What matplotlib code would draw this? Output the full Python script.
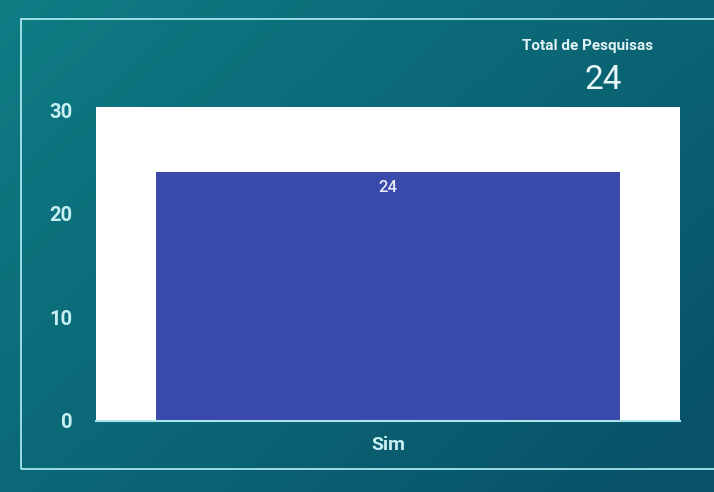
import numpy as np
import matplotlib
matplotlib.use("Agg")
import matplotlib.pyplot as plt
from matplotlib.patches import Rectangle

categories = ["Sim"]
values = [24]
total_label = "Total de Pesquisas"
total_value = 24
yticks = [0, 10, 20, 30]

plt.rcParams['font.family'] = ['Roboto', 'DejaVu Sans']

fig = plt.figure(figsize=(7.14, 4.92), dpi=100)

# background gradient (teal, darker towards the top right)
bg = fig.add_axes([0, 0, 1, 1], zorder=0)
bg.set_axis_off()
yy, xx = np.mgrid[0:1:200j, 0:1:300j]
t = np.clip(0.6 * xx + 0.45 * yy, 0, 1)
c0 = np.array([0x0f, 0x7c, 0x84]) / 255
c1 = np.array([0x08, 0x52, 0x68]) / 255
img = c0[None, None, :] * (1 - t[..., None]) + c1[None, None, :] * t[..., None]
bg.imshow(img, extent=[0, 1, 0, 1], aspect="auto", origin="upper")
bg.set_xlim(0, 1)
bg.set_ylim(0, 1)

# thin frame
bg.add_patch(Rectangle((21 / 714, 1 - 469 / 492), 1.0, (469 - 19) / 492,
                       fill=False, edgecolor="#a8e6ec", linewidth=1.3,
                       transform=bg.transAxes))

ax = fig.add_axes([96 / 714, 1 - 421 / 492, (680 - 96) / 714, (421 - 107) / 492], zorder=1)
ax.set_facecolor("white")
x = np.arange(len(categories))
bars = ax.bar(x, values, width=0.795, color="#3a4aab", zorder=2)
ax.set_xlim(-0.5, 0.5)
ax.set_ylim(0, 30.3)
ax.set_yticks(yticks)
ax.set_xticks(x)
ax.set_xticklabels(categories)
for s in ["top", "right", "left"]:
    ax.spines[s].set_visible(False)
ax.spines["bottom"].set_color("#a8e6ec")
ax.spines["bottom"].set_linewidth(1.5)
ax.tick_params(axis="both", length=0, colors="#c8f0f3")
ax.tick_params(axis="y", pad=17, labelsize=14.5)
ax.tick_params(axis="x", pad=11, labelsize=14)
for lab in ax.get_yticklabels() + ax.get_xticklabels():
    lab.set_fontweight("bold")
for b, v in zip(bars, values):
    ax.text(b.get_x() + b.get_width() / 2, v - 0.7, str(v), ha="center", va="top",
            color="#e8ecf8", fontsize=12, fontweight="medium")

fig.text(588 / 714, 1 - 46 / 492, total_label, ha="center", va="center",
         color="#e2f3f5", fontsize=11, fontweight="bold")
fig.text(603 / 714, 1 - 80 / 492, str(total_value), ha="center", va="center",
         color="#e8f6f8", fontsize=24)

fig.savefig("out.png", dpi=100)
